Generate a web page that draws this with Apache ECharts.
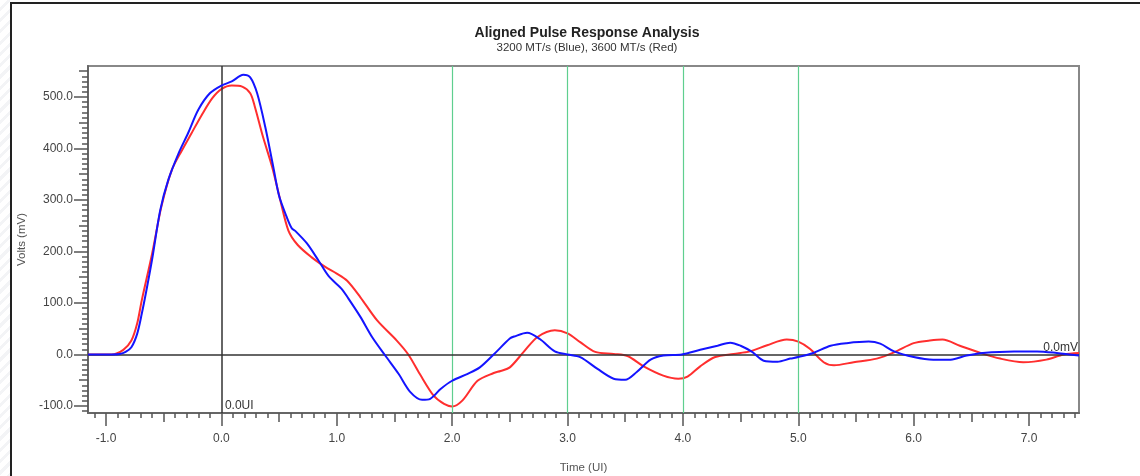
<!DOCTYPE html>
<html>
<head>
<meta charset="utf-8">
<script src="https://cdn.jsdelivr.net/npm/echarts@6/dist/echarts.min.js"></script>
<style>
  html, body { margin: 0; padding: 0; background: #fff; }
  #wrap { position: relative; width: 1140px; height: 476px; overflow: hidden; }
  #chart { position: absolute; left: 0; top: 0; width: 1140px; height: 476px; }
  #stripes { position: absolute; left: 0; top: 0; width: 10px; height: 476px;
    background: repeating-linear-gradient(135deg, #ffffff 0 5px, #f3f4f6 5px 8px); }
  #frame { position: absolute; left: 10px; top: 2px; width: 1140px; height: 480px;
    border-left: 2px solid #222; border-top: 2px solid #222; pointer-events: none; }
</style>
</head>
<body>
<div id="wrap">
  <div id="chart"></div>
  <div id="stripes"></div>
  <div id="frame"></div>
</div>
<script>
// Pulse response, 3200 MT/s (blue)
const blueTime = [-1.156, -0.95, -0.88, -0.83, -0.78, -0.73, -0.69, -0.645, -0.60, -0.53, -0.46, -0.37, -0.29, -0.20, -0.10,
  0.0, 0.09, 0.19, 0.25, 0.31, 0.38, 0.45, 0.50, 0.566, 0.61, 0.64, 0.74, 0.84, 0.93, 1.04, 1.10, 1.205, 1.306, 1.42,
  1.537, 1.638, 1.74, 1.81, 1.90, 2.0, 2.13, 2.24, 2.36, 2.50, 2.54, 2.65, 2.76, 2.89, 3.0, 3.11, 3.26, 3.40, 3.50,
  3.60, 3.72, 3.83, 3.99, 4.15, 4.30, 4.41, 4.50, 4.60, 4.70, 4.82, 4.93, 5.0, 5.13, 5.28, 5.42, 5.61, 5.71, 5.83,
  6.0, 6.17, 6.32, 6.46, 6.60, 6.87, 7.07, 7.24, 7.433];
const blueMv = [0, 0, 1, 5, 14, 40, 79, 130, 185, 280, 339, 391, 429, 475, 507,
  522, 530, 543, 538, 507, 442, 364, 308, 267, 245, 240, 216, 183, 152, 128, 109, 73, 34, -2,
  -38, -73, -88, -86, -67, -51, -38, -25, 0, 31, 35, 42, 30, 6, 0, -5, -28, -47, -49,
  -34, -10, -2, 0, 9, 17, 23, 17, 5, -12, -14, -8, -5, 3, 17, 22, 25, 21, 6,
  -5, -10, -10, -2, 3, 6, 6, 3, -2];

// Pulse response, 3600 MT/s (red)
const redTime = [-1.156, -0.95, -0.85, -0.78, -0.73, -0.69, -0.60, -0.52, -0.43, -0.34, -0.26, -0.17, -0.08,
  0.0, 0.09, 0.18, 0.25, 0.29, 0.36, 0.44, 0.51, 0.58, 0.66, 0.78, 0.90, 1.0, 1.09, 1.205, 1.35, 1.52, 1.62, 1.72,
  1.84, 1.93, 2.0, 2.09, 2.22, 2.36, 2.42, 2.50, 2.62, 2.74, 2.89, 3.0, 3.11, 3.24, 3.40, 3.52, 3.66, 3.83, 3.96,
  4.04, 4.15, 4.28, 4.44, 4.58, 4.73, 4.90, 5.0, 5.10, 5.22, 5.31, 5.48, 5.68, 5.83, 6.0, 6.14, 6.25, 6.40, 6.58,
  6.75, 6.95, 7.15, 7.30, 7.433];
const redMv = [0, 0, 9, 27, 60, 105, 196, 287, 358, 397, 429, 465, 497,
  515, 522, 520, 507, 481, 423, 364, 300, 241, 213, 189, 170, 157, 143, 111, 66, 27, 0, -38,
  -80, -96, -101, -89, -51, -36, -32, -25, 5, 34, 47, 41, 24, 5, 1, -3, -23, -41, -47,
  -43, -23, -5, 1, 6, 18, 29, 25, 11, -15, -21, -15, -8, 4, 22, 27, 29, 17, 3,
  -8, -15, -10, 0, 3];

// Axis ranges and labelled ticks
const xMin = -1.156, xMax = 7.433;
const yMin = -113.6, yMax = 560;
const xLabelValues = [-1, 0, 1, 2, 3, 4, 5, 6, 7];
const yLabelValues = [-100, 0, 100, 200, 300, 400, 500];
const unitMarkers = [2, 3, 4, 5];

// Minor / medium tick positions
const xMinorTicks = [], xMidTicks = [];
for (let i = -11; i <= 74; i++) {
  if (i % 10 === 0) continue;
  (Math.abs(i % 10) === 5 ? xMidTicks : xMinorTicks).push(i / 10);
}
const yMinorTicks = [], yMidTicks = [];
for (let v = -110; v <= 550; v += 10) {
  if (v % 100 === 0) continue;
  (Math.abs(v % 100) === 50 ? yMidTicks : yMinorTicks).push(v);
}

const pair = (t, v) => t.map((x, i) => [x, v[i]]);
const FONT = '"Liberation Sans", Arial, sans-serif';
const tickColor = '#555';

function xAxisDef(ticks, len, withLabels) {
  return {
    type: 'value', min: xMin, max: xMax, position: 'bottom',
    axisLine: { show: withLabels, onZero: false, lineStyle: { color: '#666', width: 2 } },
    splitLine: { show: false },
    axisTick: { show: true, length: len, customValues: ticks, lineStyle: { color: tickColor, width: 1.5 } },
    axisLabel: withLabels ? {
      show: true, customValues: xLabelValues, margin: 20, color: '#444', fontFamily: FONT, fontSize: 12,
      formatter: v => v.toFixed(1)
    } : { show: false },
    name: withLabels ? 'Time (UI)' : '', nameLocation: 'middle', nameGap: 49,
    nameTextStyle: { color: '#555', fontFamily: FONT, fontSize: 11.5 }
  };
}
function yAxisDef(ticks, len, withLabels) {
  return {
    type: 'value', min: yMin, max: yMax, position: 'left',
    axisLine: { show: withLabels, onZero: false, lineStyle: { color: '#666', width: 2 } },
    splitLine: { show: false },
    axisTick: { show: true, length: len, customValues: ticks, lineStyle: { color: tickColor, width: 1.5 } },
    axisLabel: withLabels ? {
      show: true, customValues: yLabelValues, margin: 15, color: '#444', fontFamily: FONT, fontSize: 12,
      formatter: v => v.toFixed(1)
    } : { show: false },
    name: withLabels ? 'Volts (mV)' : '', nameLocation: 'middle', nameGap: 60,
    nameTextStyle: { color: '#555', fontFamily: FONT, fontSize: 11.5 }
  };
}

const chart = echarts.init(document.getElementById('chart'), null, { renderer: 'canvas' });
chart.setOption({
  animation: false,
  backgroundColor: '#fff',
  textStyle: { fontFamily: FONT },
  title: {
    text: 'Aligned Pulse Response Analysis',
    subtext: '3200 MT/s (Blue), 3600 MT/s (Red)',
    left: 582, top: 21, textAlign: 'center', itemGap: 2,
    textStyle: { fontFamily: FONT, fontSize: 14, fontWeight: 'bold', color: '#222' },
    subtextStyle: { fontFamily: FONT, fontSize: 11.5, color: '#333' }
  },
  grid: {
    left: 88, top: 66, width: 991, height: 347, outerBoundsMode: 'none', containLabel: false,
    show: true, borderColor: '#888', borderWidth: 2, backgroundColor: '#fff'
  },
  xAxis: [
    xAxisDef(xLabelValues, 13, true),
    xAxisDef(xMidTicks, 9, false),
    xAxisDef(xMinorTicks, 5, false)
  ],
  yAxis: [
    yAxisDef(yLabelValues, 14, true),
    yAxisDef(yMidTicks, 9, false),
    yAxisDef(yMinorTicks, 6, false)
  ],
  series: [
    {
      name: 'markers', type: 'line', data: [], silent: true,
      markLine: {
        silent: true, symbol: 'none', animation: false,
        lineStyle: { color: '#5fcf8f', width: 1.2, type: 'solid' },
        label: { show: false },
        data: unitMarkers.map(v => ({ xAxis: v }))
      }
    },
    {
      name: 'axes', type: 'line', data: [], silent: true, z: 3,
      markLine: {
        silent: true, symbol: 'none', animation: false,
        lineStyle: { color: '#333', width: 1.5, type: 'solid' },
        data: [
          { xAxis: 0, label: { show: false } },
          { yAxis: 0, label: { show: true, position: 'insideEndTop', distance: [1, 1], formatter: '0.0mV',
            color: '#333', fontFamily: FONT, fontSize: 12 } }
        ]
      },
      markPoint: {
        silent: true, symbol: 'circle', symbolSize: 1, itemStyle: { color: 'rgba(0,0,0,0)' },
        data: [{ coord: [0, yMin], label: { show: true, formatter: '0.0UI', position: [4, -13],
          color: '#333', fontFamily: FONT, fontSize: 12 } }]
      }
    },
    {
      name: '3200 MT/s', type: 'line', data: pair(blueTime, blueMv), smooth: 0.3,
      showSymbol: false, z: 5, lineStyle: { color: '#1414ff', width: 2 }
    },
    {
      name: '3600 MT/s', type: 'line', data: pair(redTime, redMv), smooth: 0.3,
      showSymbol: false, z: 4, lineStyle: { color: '#ff2e2e', width: 2 }
    }
  ]
});
</script>
</body>
</html>
